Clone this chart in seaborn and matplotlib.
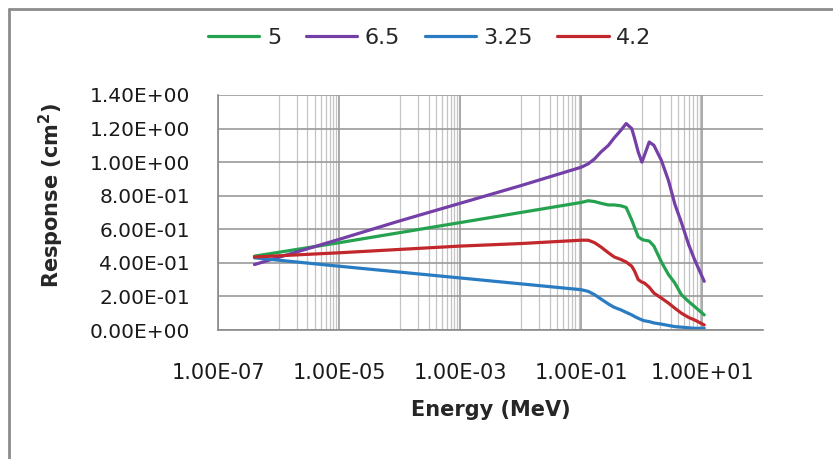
import matplotlib
matplotlib.use("Agg")
import matplotlib.pyplot as plt
import matplotlib.ticker as mticker
from matplotlib.lines import Line2D
import seaborn as sns
import pandas as pd

sns.set_style("white")
plt.rcParams['font.family'] = ['DejaVu Sans']

# Energy grid (MeV), shared by all curves
energy = [4e-7, 1e-5, 1e-4, 1e-3, 1e-2, 0.1, 0.13, 0.166, 0.21, 0.28, 0.35,
          0.45, 0.55, 0.68, 0.76, 0.87, 1.0, 1.1, 1.32, 1.58, 2.1, 2.75,
          3.5, 4.5, 5.9, 7.4, 10.7]

resp_5 = [0.44, 0.52, 0.58, 0.64, 0.70, 0.76, 0.77, 0.765, 0.755, 0.745, 0.745,
          0.74, 0.73, 0.655, 0.61, 0.555, 0.54, 0.535, 0.53, 0.50, 0.405, 0.33,
          0.28, 0.21, 0.17, 0.14, 0.09]
resp_6_5 = [0.39, 0.54, 0.65, 0.755, 0.86, 0.97, 0.99, 1.02, 1.06, 1.10, 1.145,
            1.19, 1.23, 1.20, 1.14, 1.06, 1.00, 1.04, 1.12, 1.10, 1.01, 0.89,
            0.75, 0.64, 0.51, 0.42, 0.29]
resp_3_25 = [0.43, 0.38, 0.345, 0.31, 0.275, 0.24, 0.23, 0.21, 0.185, 0.155, 0.135,
             0.12, 0.105, 0.09, 0.08, 0.07, 0.06, 0.055, 0.05, 0.042, 0.035, 0.027,
             0.02, 0.017, 0.013, 0.01, 0.01]
resp_4_2 = [0.435, 0.46, 0.48, 0.50, 0.515, 0.535, 0.535, 0.52, 0.495, 0.46, 0.435,
            0.42, 0.405, 0.38, 0.35, 0.30, 0.285, 0.28, 0.255, 0.22, 0.19, 0.16,
            0.13, 0.10, 0.075, 0.06, 0.03]

series_names = ["5", "6.5", "3.25", "4.2"]
series_values = [resp_5, resp_6_5, resp_3_25, resp_4_2]
colors = {"5": "#25a24f", "6.5": "#7440a8", "3.25": "#2a7cc2", "4.2": "#c2272b"}

df = pd.concat(
    [pd.DataFrame({"energy": energy, "response": vals, "series": name})
     for name, vals in zip(series_names, series_values)],
    ignore_index=True)

fig = plt.figure(figsize=(8.33, 4.59), dpi=100)
ax = fig.add_axes([218 / 833, 1 - 330 / 459, 545 / 833, 235 / 459])

sns.lineplot(data=df, x="energy", y="response", hue="series",
             hue_order=series_names, palette=colors, sort=False,
             linewidth=2.3, ax=ax)

ax.set_xscale("log")
ax.set_xlim(1e-7, 1e2)
ax.set_ylim(0, 1.4)

# major x ticks every two decades, minor ticks like the Excel base-100 scale
ax.xaxis.set_major_locator(mticker.FixedLocator([1e-7, 1e-5, 1e-3, 1e-1, 1e1]))
minor = [k * d for d in [1e-6, 1e-4, 1e-2, 1e0] for k in range(1, 10)]
ax.xaxis.set_minor_locator(mticker.FixedLocator(minor))
ax.xaxis.set_minor_formatter(mticker.NullFormatter())
ax.xaxis.set_major_formatter(mticker.FuncFormatter(lambda v, p: f"{v:.2E}"))

ax.yaxis.set_major_locator(mticker.MultipleLocator(0.2))
ax.yaxis.set_minor_locator(mticker.MultipleLocator(0.02))
ax.yaxis.set_major_formatter(mticker.FuncFormatter(lambda v, p: f"{v:.2E}"))

ax.grid(True, which="major", axis="both", color="#9a9a9a", linewidth=1.2)
ax.grid(True, which="minor", axis="x", color="#c4c4c4", linewidth=0.9)
ax.set_axisbelow(True)

for s in ["top", "right"]:
    ax.spines[s].set_visible(False)
for s in ["left", "bottom"]:
    ax.spines[s].set_color("#8a8a8a")
    ax.spines[s].set_linewidth(1.2)

ax.tick_params(axis="y", which="major", direction="out", length=8,
               color="#8a8a8a", labelsize=14.5, labelcolor="#1a1a1a", pad=12)
ax.tick_params(axis="y", which="minor", direction="out", length=4, color="#8a8a8a")
ax.tick_params(axis="x", which="major", direction="out", length=6,
               color="#8a8a8a", labelsize=15, labelcolor="#1a1a1a", pad=18)
ax.tick_params(axis="x", which="minor", direction="out", length=3, color="#aaaaaa")

ax.set_xlabel("Energy (MeV)", fontsize=15, fontweight="bold")
ax.set_ylabel("Response (cm$^\\mathbf{2}$)", fontsize=15, fontweight="bold")
ax.xaxis.set_label_coords(0.5, -0.30)
ax.yaxis.set_label_coords(-0.278, 0.574)

handles, labels = ax.get_legend_handles_labels()
ax.legend_.remove()
fig.legend(handles, labels, loc="center", bbox_to_anchor=(430 / 833, 1 - 38 / 459),
           ncol=4, frameon=False, fontsize=16, handlelength=2.3,
           handletextpad=0.35, columnspacing=1.1)

# outer chart border (only left and top edges are visible in the frame)
bx, by = 9 / 833, 1 - 9 / 459
fig.add_artist(Line2D([bx, bx], [0, by], transform=fig.transFigure,
                      color="#8c8c8c", linewidth=2.0))
fig.add_artist(Line2D([bx, 1], [by, by], transform=fig.transFigure,
                      color="#8c8c8c", linewidth=2.0))

fig.savefig("out.png", dpi=100)
